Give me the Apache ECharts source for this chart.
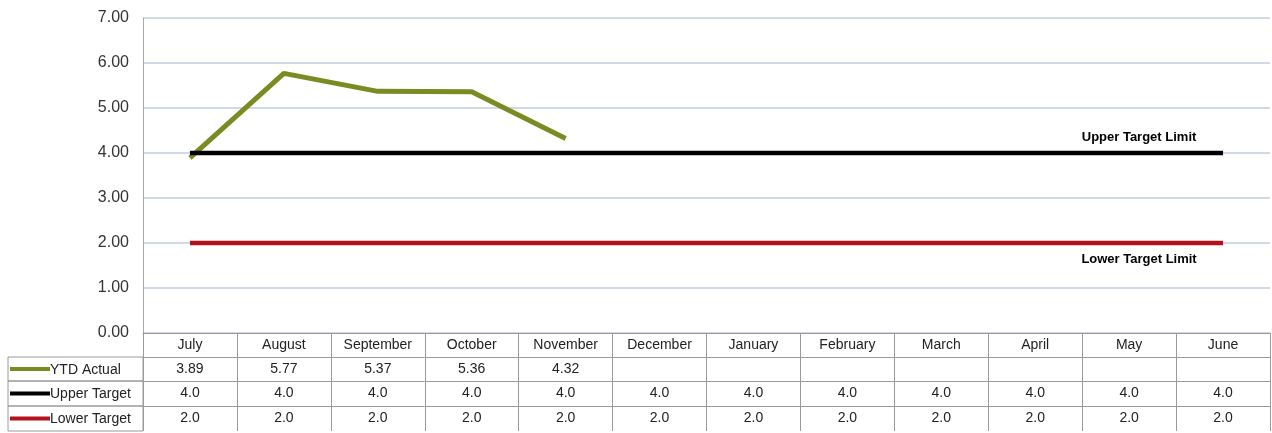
<!DOCTYPE html>
<html>
<head>
<meta charset="utf-8">
<script src="https://cdn.jsdelivr.net/npm/echarts@6/dist/echarts.min.js"></script>
<style>
  html, body { margin: 0; padding: 0; background: #fff; }
  #chart { width: 1272px; height: 433px; }
</style>
</head>
<body>
<div id="chart"></div>
<script>
const months = ['July', 'August', 'September', 'October', 'November', 'December',
  'January', 'February', 'March', 'April', 'May', 'June']
const ytdActual = [3.89, 5.77, 5.37, 5.36, 4.32, null, null, null, null, null, null, null]
const upperTarget = [4, 4, 4, 4, 4, 4, 4, 4, 4, 4, 4, 4]
const lowerTarget = [2, 2, 2, 2, 2, 2, 2, 2, 2, 2, 2, 2]
const seriesNames = ['YTD Actual', 'Upper Target', 'Lower Target']
const seriesColors = ['#7b8b22', '#000000', '#b3121b']

const FONT = 'Arial, "Liberation Sans", sans-serif'
const gridLine = '#bfcde0'
const tableLine = '#9a9a9a'

const chart = echarts.init(document.getElementById('chart'))

// one extra x axis per table row, stacked under the plot
function rowAxis (offset, values, digits) {
  return {
    type: 'category',
    data: months,
    position: 'bottom',
    offset: offset,
    axisLine: { show: true, lineStyle: { color: tableLine, width: 1 } },
    axisTick: { show: false },
    axisLabel: {
      interval: 0,
      margin: 5,
      fontFamily: FONT,
      fontSize: 14,
      color: '#222',
      formatter: (v, i) => values[i] == null ? '' : values[i].toFixed(digits)
    }
  }
}

// last point label for the target lines
function withEndLabel (arr, text, pos, offset) {
  return arr.map((v, i) => {
    if (i !== arr.length - 1) return v
    return {
      value: v,
      label: {
        show: true,
        position: pos,
        offset: offset,
        formatter: text,
        fontFamily: FONT,
        fontSize: 13,
        fontWeight: 'bold',
        color: '#000'
      }
    }
  })
}

const rowTop = [357, 381, 406]
const rowH = [24, 25, 25]
let graphics = []
seriesNames.forEach((name, k) => {
  graphics.push({
    type: 'rect',
    shape: { x: 8, y: rowTop[k], width: 135, height: rowH[k] },
    style: { fill: 'none', stroke: tableLine, lineWidth: 1 }
  })
  graphics.push({
    type: 'line',
    shape: { x1: 10, y1: rowTop[k] + rowH[k] / 2, x2: 50, y2: rowTop[k] + rowH[k] / 2 },
    style: { stroke: seriesColors[k], lineWidth: 4 }
  })
  graphics.push({
    type: 'text',
    x: 50,
    y: rowTop[k] + rowH[k] / 2 + 1,
    style: {
      text: name,
      fill: '#222',
      font: '14px ' + FONT,
      verticalAlign: 'middle'
    }
  })
})

const options = {
  animation: false,
  grid: {
    left: 143,
    right: 2,
    top: 18,
    bottom: 100,
    containLabel: false,
    outerBoundsMode: 'none'
  },
  xAxis: [
    {
      type: 'category',
      data: months,
      position: 'bottom',
      boundaryGap: true,
      axisLine: { show: true, lineStyle: { color: tableLine, width: 1 } },
      axisTick: {
        show: true,
        interval: 0,
        alignWithLabel: false,
        length: 98,
        lineStyle: { color: tableLine, width: 1 }
      },
      axisLabel: {
        interval: 0,
        margin: 5,
        fontFamily: FONT,
        fontSize: 14,
        color: '#222'
      }
    },
    rowAxis(24, ytdActual, 2),
    rowAxis(48, upperTarget, 1),
    rowAxis(73, lowerTarget, 1)
  ],
  yAxis: {
    type: 'value',
    min: 0,
    max: 7,
    interval: 1,
    axisLine: { show: true, lineStyle: { color: '#a8a8a8', width: 1 } },
    axisTick: { show: false },
    splitLine: { lineStyle: { color: gridLine, width: 1.5 } },
    axisLabel: {
      margin: 14,
      fontFamily: FONT,
      fontSize: 16,
      color: '#333',
      formatter: v => v.toFixed(2)
    }
  },
  series: [
    {
      name: seriesNames[0],
      type: 'line',
      data: ytdActual,
      showSymbol: false,
      connectNulls: false,
      lineStyle: { color: seriesColors[0], width: 5 }
    },
    {
      name: seriesNames[1],
      type: 'line',
      data: withEndLabel(upperTarget, 'Upper Target Limit', 'top', [-84, -4]),
      showSymbol: true,
      symbol: 'circle',
      symbolSize: 1,
      itemStyle: { color: 'rgba(0,0,0,0)' },
      lineStyle: { color: seriesColors[1], width: 4.5 }
    },
    {
      name: seriesNames[2],
      type: 'line',
      data: withEndLabel(lowerTarget, 'Lower Target Limit', 'bottom', [-84, 4]),
      showSymbol: true,
      symbol: 'circle',
      symbolSize: 1,
      itemStyle: { color: 'rgba(0,0,0,0)' },
      lineStyle: { color: seriesColors[2], width: 4.5 }
    }
  ],
  graphic: graphics
}

chart.setOption(options)
</script>
</body>
</html>
